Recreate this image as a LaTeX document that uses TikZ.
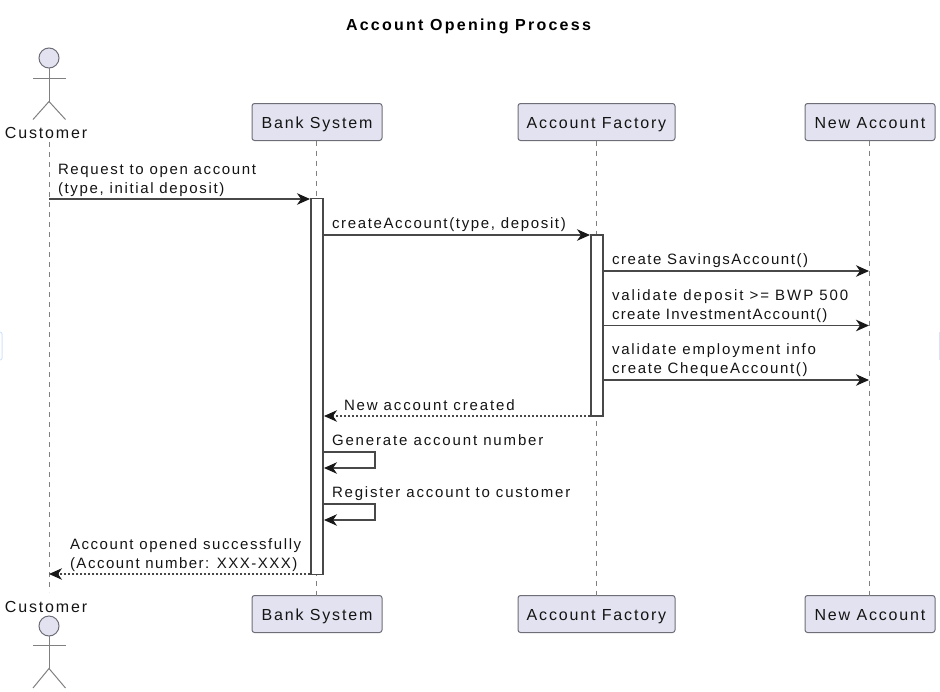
\documentclass[tikz,border=0pt]{standalone}
\usepackage{fontspec}
\setmainfont{Liberation Sans}[LetterSpace=11]
\newfontfamily\namefont{Liberation Sans}[LetterSpace=11.5]
\newfontfamily\titlefont{Liberation Sans}[LetterSpace=14,BoldFont={Liberation Sans Bold}]
\newcommand\lsp[2]{{\addfontfeature{LetterSpace=#1}#2}}
\usetikzlibrary{arrows.meta}
\definecolor{partfill}{HTML}{E2E2F0}
\definecolor{partline}{HTML}{6E6E78}
\definecolor{arrowc}{HTML}{484848}
\definecolor{tipc}{HTML}{181818}
\definecolor{lifec}{HTML}{808080}
\definecolor{edgec}{HTML}{D4E4FA}
\tikzset{
  x=1pt,y=-1pt,
  every node/.style={font=\fontsize{15}{19}\selectfont,text=black!92,inner sep=0pt,outer sep=0pt},
  namefontstyle/.style={font=\namefont\fontsize{16}{19}\selectfont},
  part/.style={namefontstyle,draw=partline,fill=partfill,rounded corners=2.5pt,line width=1pt,minimum height=37pt,anchor=center,text height=12pt,text depth=0pt},
  life/.style={draw=lifec,line width=1pt,dash pattern=on 5pt off 5pt},
  actbox/.style={draw=arrowc,fill=white,line width=1.3pt,minimum width=12pt,anchor=north west},
  msg/.style={draw=arrowc,line width=1.3pt,-{Stealth[length=13pt,width=11.5pt,inset=4pt,color=tipc]}},
  ret/.style={msg,dash pattern=on 2pt off 2pt},
  lab/.style={anchor=base west,align=left},
  actorline/.style={draw=lifec,line width=1pt},
  head/.style={circle,draw=partline,fill=partfill,line width=1pt,minimum size=20pt},
}
\begin{document}
\begin{tikzpicture}
\useasboundingbox (0,0) rectangle (940,691);
\draw[edgec,line width=1pt,rounded corners=2pt] (0,332) -- (2,332) -- (2,360) -- (0,360);
\draw[edgec,line width=1pt] (939,332) -- (939,360);
\node[font=\titlefont\bfseries\fontsize{16}{18}\selectfont,text=black,anchor=base] (title) at (468.5,30) {Account Opening Process};

% top and bottom heads
\node[part,minimum width=130pt] (bankT) at (317,122) {Bank System};
\node[part,minimum width=157pt] (factT) at (596.5,122) {Account Factory};
\node[part,minimum width=130pt] (newT) at (870,122) {New Account};
\node[part,minimum width=130pt] (bankB) at (317,614) {Bank System};
\node[part,minimum width=157pt] (factB) at (596.5,614) {Account Factory};
\node[part,minimum width=130pt] (newB) at (870,614) {New Account};

\node[namefontstyle,anchor=base] (custT) at (46,138) {Customer};
\node[namefontstyle,anchor=base] (custB) at (46,612) {Customer};
\coordinate (custLT) at (49,142);
\coordinate (custLB) at (49,592);

% lifelines
\draw[life] (custLT) -- (custLB);
\draw[life] ([xshift=-1pt]bankT.south) -- ([xshift=-1pt]bankB.north);
\draw[life] ([xshift=-.5pt]factT.south) -- ([xshift=-.5pt]factB.north);
\draw[life] ([xshift=-1pt]newT.south) -- ([xshift=-1pt]newB.north);

% actors
\node[head] (headT) at (49,58) {};
\draw[actorline] (headT.south) -- (49,101.5) coordinate (hipT);
\draw[actorline] (33,78) -- (65.5,78);
\draw[actorline] (33,119.5) -- (hipT) -- (65.5,119.5);
\node[head] (headB) at (49,626) {};
\draw[actorline] (headB.south) -- (49,668.5) coordinate (hipB);
\draw[actorline] (33,645.5) -- (65.5,645.5);
\draw[actorline] (33,688) -- (hipB) -- (65.5,688);

% activations
\node[actbox,minimum height=376pt] (actBank) at (311,198.5) {};
\node[actbox,minimum height=181pt] (actFact) at (591,235) {};

% message endpoints
\coordinate (m1s) at (49,199); \coordinate (m1e) at (310,199);
\coordinate (m2s) at (324,235); \coordinate (m2e) at (590,235);
\coordinate (m3s) at (604,271); \coordinate (m3e) at (869,271);
\coordinate (m4s) at (604,325.5); \coordinate (m4e) at (869,325.5);
\coordinate (m5s) at (604,380); \coordinate (m5e) at (869,380);
\coordinate (m6s) at (590,416); \coordinate (m6e) at (324,416);
\coordinate (m9s) at (310,574); \coordinate (m9e) at (49,574);

\draw[msg] (m1s) -- (m1e);
\draw[msg] (m2s) -- (m2e);
\draw[msg] (m3s) -- (m3e);
\draw[msg] (m4s) -- (m4e);
\draw[msg] (m5s) -- (m5e);
\draw[ret] (m6s) -- (m6e);
\draw[msg] (324,452) -- (375,452) -- (375,468) -- (324,468);
\draw[msg] (324,504) -- (375,504) -- (375,520) -- (324,520);
\draw[ret] (m9s) -- (m9e);

% labels
\node[lab] (l1) at (58,193) {Request to open account\\(type, initial deposit)};
\node[lab] (l2) at (332,228) {createAccount(type, deposit)};
\node[lab] (l3) at (612,264) {\lsp{10.4}{create SavingsAccount()}};
\node[lab] (l4) at (612,319) {\lsp{13}{validate deposit >= BWP 500}\\\lsp{8.9}{create InvestmentAccount()}};
\node[lab] (l5) at (612,373) {\lsp{12.1}{validate employment info}\\create ChequeAccount()};
\node[lab] (l6) at (344,410) {\lsp{12.4}{New account created}};
\node[lab] (l7) at (332,445) {\lsp{12.4}{Generate account number}};
\node[lab] (l8) at (332,497) {\lsp{12}{Register account to customer}};
\node[lab] (l9) at (70,568) {\lsp{10.5}{Account opened successfully}\\\lsp{10}{(Account number: XXX-XXX)}};
\end{tikzpicture}
\end{document}
